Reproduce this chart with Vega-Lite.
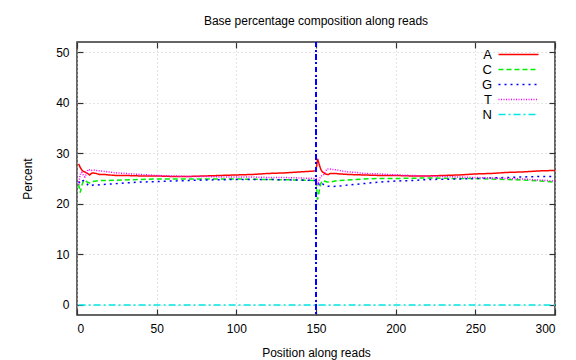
{
  "$schema": "https://vega.github.io/schema/vega-lite/v6.json",
  "width": 478,
  "height": 273,
  "autosize": "none",
  "padding": {"left": 77, "top": 42, "right": 21, "bottom": 45},
  "background": "white",
  "title": {"text": "Base percentage composition along reads", "fontSize": 12, "fontWeight": "normal", "font": "Liberation Sans", "offset": 13, "color": "black"},
  "config": {
    "view": {"stroke": "#333", "strokeWidth": 1.5},
    "font": "Liberation Sans",
    "axis": {"labelFont": "Liberation Sans", "titleFont": "Liberation Sans", "labelFontSize": 12, "titleFontSize": 12, "titleFontWeight": "normal", "labelColor": "black", "titleColor": "black", "tickColor": "#333", "domain": false, "tickSize": -6, "tickWidth": 1.2, "gridColor": "#c8c8c8", "gridDash": [1, 3], "gridWidth": 1}
  },
  "datasets": {
    "comp": [
      {"pos": 1, "base": "A", "pct": 27.9}, {"pos": 2, "base": "A", "pct": 27.2}, {"pos": 3, "base": "A", "pct": 26.7}, {"pos": 4, "base": "A", "pct": 26.4}, {"pos": 5, "base": "A", "pct": 26.3}, {"pos": 6, "base": "A", "pct": 26.1}, {"pos": 7, "base": "A", "pct": 25.9}, {"pos": 8, "base": "A", "pct": 25.7}, {"pos": 9, "base": "A", "pct": 26.0}, {"pos": 10, "base": "A", "pct": 26.1}, {"pos": 12, "base": "A", "pct": 26.0}, {"pos": 14, "base": "A", "pct": 25.8}, {"pos": 17, "base": "A", "pct": 25.8}, {"pos": 20, "base": "A", "pct": 25.7}, {"pos": 25, "base": "A", "pct": 25.6}, {"pos": 30, "base": "A", "pct": 25.6}, {"pos": 40, "base": "A", "pct": 25.5}, {"pos": 50, "base": "A", "pct": 25.5}, {"pos": 60, "base": "A", "pct": 25.4}, {"pos": 70, "base": "A", "pct": 25.4}, {"pos": 80, "base": "A", "pct": 25.5}, {"pos": 90, "base": "A", "pct": 25.6}, {"pos": 100, "base": "A", "pct": 25.7}, {"pos": 110, "base": "A", "pct": 25.8}, {"pos": 120, "base": "A", "pct": 26.0}, {"pos": 130, "base": "A", "pct": 26.1}, {"pos": 140, "base": "A", "pct": 26.3}, {"pos": 150, "base": "A", "pct": 26.5},
      {"pos": 151, "base": "A", "pct": 28.9}, {"pos": 152, "base": "A", "pct": 27.8}, {"pos": 153, "base": "A", "pct": 26.8}, {"pos": 154, "base": "A", "pct": 26.3}, {"pos": 155, "base": "A", "pct": 26.1}, {"pos": 156, "base": "A", "pct": 25.9}, {"pos": 157, "base": "A", "pct": 25.8}, {"pos": 158, "base": "A", "pct": 25.8}, {"pos": 159, "base": "A", "pct": 26.0}, {"pos": 160, "base": "A", "pct": 26.0}, {"pos": 162, "base": "A", "pct": 26.0}, {"pos": 165, "base": "A", "pct": 25.9}, {"pos": 170, "base": "A", "pct": 25.8}, {"pos": 180, "base": "A", "pct": 25.7}, {"pos": 190, "base": "A", "pct": 25.6}, {"pos": 200, "base": "A", "pct": 25.6}, {"pos": 210, "base": "A", "pct": 25.5}, {"pos": 220, "base": "A", "pct": 25.5}, {"pos": 230, "base": "A", "pct": 25.6}, {"pos": 240, "base": "A", "pct": 25.7}, {"pos": 250, "base": "A", "pct": 25.9}, {"pos": 260, "base": "A", "pct": 26.0}, {"pos": 270, "base": "A", "pct": 26.2}, {"pos": 280, "base": "A", "pct": 26.3}, {"pos": 290, "base": "A", "pct": 26.5}, {"pos": 300, "base": "A", "pct": 26.6},

      {"pos": 1, "base": "C", "pct": 23.9}, {"pos": 2, "base": "C", "pct": 22.2}, {"pos": 3, "base": "C", "pct": 23.6}, {"pos": 4, "base": "C", "pct": 24.5}, {"pos": 5, "base": "C", "pct": 24.7}, {"pos": 6, "base": "C", "pct": 24.4}, {"pos": 7, "base": "C", "pct": 24.2}, {"pos": 8, "base": "C", "pct": 24.1}, {"pos": 9, "base": "C", "pct": 24.2}, {"pos": 10, "base": "C", "pct": 24.4}, {"pos": 12, "base": "C", "pct": 24.5}, {"pos": 15, "base": "C", "pct": 24.6}, {"pos": 20, "base": "C", "pct": 24.6}, {"pos": 30, "base": "C", "pct": 24.7}, {"pos": 40, "base": "C", "pct": 24.8}, {"pos": 50, "base": "C", "pct": 24.9}, {"pos": 60, "base": "C", "pct": 24.9}, {"pos": 80, "base": "C", "pct": 24.9}, {"pos": 100, "base": "C", "pct": 24.9}, {"pos": 120, "base": "C", "pct": 24.8}, {"pos": 140, "base": "C", "pct": 24.7}, {"pos": 150, "base": "C", "pct": 24.6},
      {"pos": 151, "base": "C", "pct": 20.8}, {"pos": 152, "base": "C", "pct": 22.5}, {"pos": 153, "base": "C", "pct": 24.0}, {"pos": 154, "base": "C", "pct": 24.6}, {"pos": 155, "base": "C", "pct": 24.5}, {"pos": 157, "base": "C", "pct": 24.3}, {"pos": 159, "base": "C", "pct": 24.3}, {"pos": 162, "base": "C", "pct": 24.5}, {"pos": 165, "base": "C", "pct": 24.6}, {"pos": 170, "base": "C", "pct": 24.7}, {"pos": 180, "base": "C", "pct": 24.9}, {"pos": 190, "base": "C", "pct": 25.0}, {"pos": 200, "base": "C", "pct": 25.0}, {"pos": 220, "base": "C", "pct": 25.1}, {"pos": 240, "base": "C", "pct": 25.0}, {"pos": 250, "base": "C", "pct": 25.0}, {"pos": 260, "base": "C", "pct": 24.9}, {"pos": 270, "base": "C", "pct": 24.8}, {"pos": 280, "base": "C", "pct": 24.7}, {"pos": 290, "base": "C", "pct": 24.5}, {"pos": 300, "base": "C", "pct": 24.3},

      {"pos": 1, "base": "G", "pct": 24.4}, {"pos": 2, "base": "G", "pct": 24.0}, {"pos": 3, "base": "G", "pct": 24.5}, {"pos": 4, "base": "G", "pct": 24.6}, {"pos": 5, "base": "G", "pct": 24.4}, {"pos": 6, "base": "G", "pct": 24.0}, {"pos": 7, "base": "G", "pct": 23.7}, {"pos": 8, "base": "G", "pct": 23.5}, {"pos": 9, "base": "G", "pct": 23.6}, {"pos": 10, "base": "G", "pct": 23.7}, {"pos": 12, "base": "G", "pct": 23.7}, {"pos": 15, "base": "G", "pct": 23.8}, {"pos": 20, "base": "G", "pct": 23.9}, {"pos": 30, "base": "G", "pct": 24.1}, {"pos": 40, "base": "G", "pct": 24.3}, {"pos": 50, "base": "G", "pct": 24.4}, {"pos": 60, "base": "G", "pct": 24.5}, {"pos": 70, "base": "G", "pct": 24.6}, {"pos": 80, "base": "G", "pct": 24.7}, {"pos": 100, "base": "G", "pct": 24.8}, {"pos": 120, "base": "G", "pct": 24.8}, {"pos": 140, "base": "G", "pct": 24.7}, {"pos": 150, "base": "G", "pct": 24.6},
      {"pos": 151, "base": "G", "pct": 24.3}, {"pos": 152, "base": "G", "pct": 23.8}, {"pos": 153, "base": "G", "pct": 24.2}, {"pos": 154, "base": "G", "pct": 24.0}, {"pos": 155, "base": "G", "pct": 23.7}, {"pos": 157, "base": "G", "pct": 23.5}, {"pos": 160, "base": "G", "pct": 23.4}, {"pos": 165, "base": "G", "pct": 23.5}, {"pos": 170, "base": "G", "pct": 23.7}, {"pos": 180, "base": "G", "pct": 24.0}, {"pos": 190, "base": "G", "pct": 24.3}, {"pos": 200, "base": "G", "pct": 24.5}, {"pos": 210, "base": "G", "pct": 24.6}, {"pos": 220, "base": "G", "pct": 24.8}, {"pos": 240, "base": "G", "pct": 24.9}, {"pos": 250, "base": "G", "pct": 25.0}, {"pos": 260, "base": "G", "pct": 25.1}, {"pos": 270, "base": "G", "pct": 25.2}, {"pos": 280, "base": "G", "pct": 25.3}, {"pos": 290, "base": "G", "pct": 25.4}, {"pos": 300, "base": "G", "pct": 25.4},

      {"pos": 1, "base": "T", "pct": 23.8}, {"pos": 2, "base": "T", "pct": 25.8}, {"pos": 3, "base": "T", "pct": 26.2}, {"pos": 4, "base": "T", "pct": 25.6}, {"pos": 5, "base": "T", "pct": 25.3}, {"pos": 6, "base": "T", "pct": 26.0}, {"pos": 7, "base": "T", "pct": 26.8}, {"pos": 8, "base": "T", "pct": 26.7}, {"pos": 9, "base": "T", "pct": 26.6}, {"pos": 10, "base": "T", "pct": 26.7}, {"pos": 12, "base": "T", "pct": 26.6}, {"pos": 15, "base": "T", "pct": 26.5}, {"pos": 20, "base": "T", "pct": 26.3}, {"pos": 25, "base": "T", "pct": 26.1}, {"pos": 30, "base": "T", "pct": 26.0}, {"pos": 40, "base": "T", "pct": 25.8}, {"pos": 50, "base": "T", "pct": 25.6}, {"pos": 60, "base": "T", "pct": 25.5}, {"pos": 70, "base": "T", "pct": 25.4}, {"pos": 80, "base": "T", "pct": 25.4}, {"pos": 90, "base": "T", "pct": 25.3}, {"pos": 100, "base": "T", "pct": 25.3}, {"pos": 110, "base": "T", "pct": 25.3}, {"pos": 120, "base": "T", "pct": 25.2}, {"pos": 130, "base": "T", "pct": 25.2}, {"pos": 140, "base": "T", "pct": 25.1}, {"pos": 150, "base": "T", "pct": 25.0},
      {"pos": 151, "base": "T", "pct": 23.6}, {"pos": 152, "base": "T", "pct": 24.8}, {"pos": 153, "base": "T", "pct": 25.4}, {"pos": 154, "base": "T", "pct": 25.6}, {"pos": 155, "base": "T", "pct": 25.8}, {"pos": 156, "base": "T", "pct": 26.4}, {"pos": 157, "base": "T", "pct": 26.9}, {"pos": 158, "base": "T", "pct": 26.9}, {"pos": 160, "base": "T", "pct": 26.8}, {"pos": 163, "base": "T", "pct": 26.7}, {"pos": 166, "base": "T", "pct": 26.5}, {"pos": 170, "base": "T", "pct": 26.3}, {"pos": 175, "base": "T", "pct": 26.2}, {"pos": 180, "base": "T", "pct": 26.0}, {"pos": 190, "base": "T", "pct": 25.9}, {"pos": 200, "base": "T", "pct": 25.7}, {"pos": 210, "base": "T", "pct": 25.6}, {"pos": 220, "base": "T", "pct": 25.5}, {"pos": 230, "base": "T", "pct": 25.4}, {"pos": 240, "base": "T", "pct": 25.3}, {"pos": 250, "base": "T", "pct": 25.2}, {"pos": 260, "base": "T", "pct": 25.1}, {"pos": 270, "base": "T", "pct": 25.0}, {"pos": 280, "base": "T", "pct": 24.9}, {"pos": 290, "base": "T", "pct": 24.7}, {"pos": 300, "base": "T", "pct": 24.5},

      {"pos": 1, "base": "N", "pct": 0}, {"pos": 150, "base": "N", "pct": 0}, {"pos": 151, "base": "N", "pct": 0}, {"pos": 300, "base": "N", "pct": 0}
    ]
  },
  "data": {"name": "comp"},
  "resolve": {"axis": {"x": "independent", "y": "independent"}},
  "layer": [
    {
      "mark": {"type": "line", "strokeWidth": 1.5, "clip": true},
      "encoding": {
        "x": {"field": "pos", "type": "quantitative", "scale": {"domain": [0, 300], "nice": false, "zero": false}, "axis": {"title": "Position along reads", "values": [0, 50, 100, 150, 200, 250, 300], "grid": true, "labelPadding": 14, "titlePadding": 13}},
        "y": {"field": "pct", "type": "quantitative", "scale": {"domain": [-2, 52], "nice": false, "zero": false}, "axis": {"title": "Percent", "values": [0, 10, 20, 30, 40, 50], "grid": true, "labelPadding": 14, "titlePadding": 21}},
        "color": {"field": "base", "type": "nominal", "scale": {"domain": ["A", "C", "G", "T", "N"], "range": ["#ff0000", "#00ee00", "#0000ff", "#ff00ff", "#00e5e5"]}, "legend": {"title": null, "orient": "none", "legendX": 435, "legendY": 6, "symbolType": "M-4,0H4", "symbolSize": 100, "symbolStrokeWidth": 1.5, "labelAlign": "right", "labelOffset": -33, "labelFontSize": 13, "labelFont": "Liberation Sans", "labelColor": "black", "rowPadding": 1, "padding": 0}},
        "strokeDash": {"field": "base", "type": "nominal", "scale": {"domain": ["A", "C", "G", "T", "N"], "range": [[1, 0], [5, 3], [2, 4], [1, 1.5], [7, 3, 2, 3]]}, "legend": null},
        "order": {"field": "pos", "type": "quantitative"}
      }
    },
    {
      "mark": {"type": "rule", "color": "#0000ff", "strokeWidth": 1.3, "strokeDash": [5, 3, 1.5, 3]},
      "encoding": {"x": {"datum": 150, "axis": null}}
    },
    {
      "mark": {"type": "point", "opacity": 0},
      "encoding": {
        "x": {"field": "pos", "type": "quantitative", "axis": {"orient": "top", "title": null, "labels": false, "grid": false, "values": [0, 50, 100, 150, 200, 250, 300]}},
        "y": {"field": "pct", "type": "quantitative", "axis": {"orient": "right", "title": null, "labels": false, "grid": false, "values": [0, 10, 20, 30, 40, 50]}}
      }
    }
  ]
}
